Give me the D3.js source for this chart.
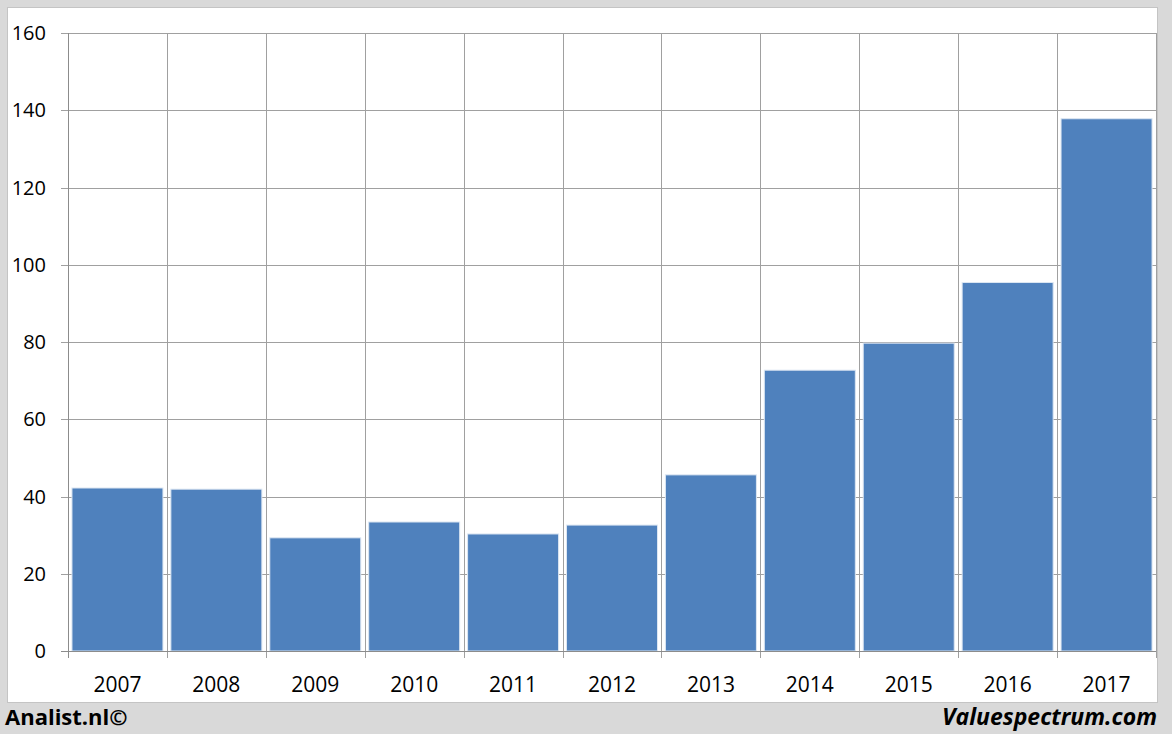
<!DOCTYPE html>
<html><head><meta charset="utf-8">
<script src="https://cdn.jsdelivr.net/npm/d3@7/dist/d3.min.js"></script>
<style>html,body{margin:0;padding:0;background:#d9d9d9;}svg{display:block;}</style>
</head><body>
<script>
const categories = ["2007","2008","2009","2010","2011","2012","2013","2014","2015","2016","2017"];
const values = [42.2, 41.9, 29.3, 33.4, 30.3, 32.6, 45.6, 72.7, 79.7, 95.4, 137.8];
const yTicks = [0, 20, 40, 60, 80, 100, 120, 140, 160];

(function () {
const W = 1172, H = 734;
const svg = d3.select("body").append("svg").attr("width", W).attr("height", H);
svg.append("rect").attr("width", W).attr("height", H).attr("fill", "#d9d9d9");
svg.append("rect").attr("x", 7.5).attr("y", 7.5).attr("width", 1150).attr("height", 695)
  .attr("fill", "#ffffff").attr("stroke", "#c4c4c4");

const pLeft = 68, pRight = 1156, pTop = 33, pBottom = 651;
const x = d3.scaleBand().domain(categories).range([pLeft, pRight]).paddingInner(0.08).paddingOuter(0.04);
const y = d3.scaleLinear().domain([0, 160]).range([pBottom, pTop]);
const step = (pRight - pLeft) / categories.length;

const font = "'Open Sans', 'Liberation Sans', sans-serif";
const g = svg.append("g");

g.selectAll("line.hg").data(yTicks).join("line")
  .attr("x1", pLeft - 7).attr("x2", pRight)
  .attr("y1", d => Math.round(y(d)) + 0.5).attr("y2", d => Math.round(y(d)) + 0.5)
  .attr("stroke", "#a0a0a0").attr("stroke-width", 1);
const vx = d3.range(categories.length + 1).map(i => pLeft + i * step);
g.selectAll("line.vg").data(vx).join("line")
  .attr("x1", d => Math.round(d) + 0.5).attr("x2", d => Math.round(d) + 0.5)
  .attr("y1", pTop).attr("y2", pBottom + 7)
  .attr("stroke", "#a0a0a0").attr("stroke-width", 1);

g.selectAll("rect.bar").data(values).join("rect")
  .attr("x", (d, i) => x(categories[i]))
  .attr("width", x.bandwidth())
  .attr("y", d => y(d))
  .attr("height", d => pBottom - y(d))
  .attr("fill", "#4f81bd")
  .attr("stroke", "#dce6f2").attr("stroke-width", 1);

g.append("line").attr("x1", pLeft + 0.5).attr("x2", pLeft + 0.5).attr("y1", pTop).attr("y2", pBottom + 7)
  .attr("stroke", "#8c8c8c");
g.append("line").attr("x1", pLeft - 7).attr("x2", pRight).attr("y1", pBottom + 0.5).attr("y2", pBottom + 0.5)
  .attr("stroke", "#8c8c8c");

g.selectAll("text.yl").data(yTicks).join("text")
  .attr("x", 46).attr("y", d => y(d) + 7)
  .attr("text-anchor", "end").attr("font-family", font).attr("font-size", 20).attr("fill", "#000")
  .text(d => d);

g.selectAll("text.xl").data(categories).join("text")
  .attr("x", (d, i) => pLeft + i * step + step / 2).attr("y", 692)
  .attr("text-anchor", "middle").attr("font-family", font).attr("font-size", 21).attr("fill", "#000")
  .text(d => d);

svg.append("text").attr("x", 5).attr("y", 725).attr("font-family", font).attr("font-weight", "bold")
  .attr("font-size", 22).attr("fill", "#000").text("Analist.nl©");
svg.append("text").attr("x", 1157).attr("y", 725).attr("text-anchor", "end").attr("font-family", font)
  .attr("font-weight", "bold").attr("font-style", "italic").attr("font-size", 23).attr("fill", "#000")
  .text("Valuespectrum.com");
})();
</script>
</body></html>
